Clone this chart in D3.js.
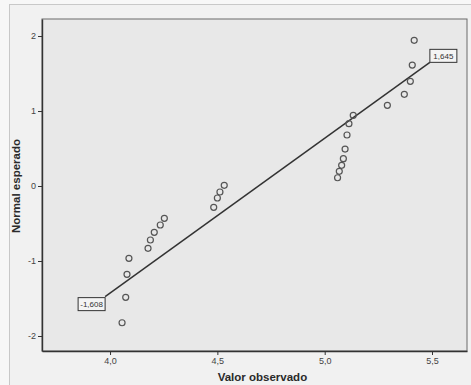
<!DOCTYPE html>
<html>
<head>
<meta charset="utf-8">
<script src="https://cdn.jsdelivr.net/npm/d3@7"></script>
<style>
  body { margin: 0; background: #f7f7f7; }
  svg { display: block; font-family: "Liberation Sans", Arial, sans-serif; }
</style>
</head>
<body>
<div id="viz"></div>
<script>
const observed = [4.056, 4.073, 4.079, 4.088, 4.177, 4.188, 4.206, 4.234, 4.253,
                  4.483, 4.500, 4.512, 4.532,
                  5.060, 5.068, 5.079, 5.087, 5.095, 5.104, 5.113, 5.133,
                  5.292, 5.371, 5.399, 5.408, 5.417];
const expected = [-1.823, -1.484, -1.177, -0.964, -0.831, -0.720, -0.617, -0.520, -0.431,
                  -0.284, -0.160, -0.080, 0.009,
                  0.110, 0.196, 0.276, 0.364, 0.493, 0.680, 0.831, 0.943,
                  1.076, 1.223, 1.396, 1.613, 1.943];

// reference line end points and their labels
const lineX = [3.977, 5.49];
const lineY = [-1.475, 1.649];
const lineLabels = ["-1,608", "1,645"];

const xTicks = [4.0, 4.5, 5.0, 5.5];
const yTicks = [-2, -1, 0, 1, 2];

const W = 471, H = 385;
const margin = { left: 42, right: 4, top: 19, bottom: 34 };

const svg = d3.select("#viz")
    .append("svg")
    .attr("width", W)
    .attr("height", H);

// outer frame of the chart
svg.append("rect")
    .attr("x", 9.5).attr("y", 4.5)
    .attr("width", W - 9).attr("height", H - 4)
    .attr("fill", "#f1f1f1")
    .attr("stroke", "#c8c8c8");

const xScale = d3.scaleLinear()
    .domain([3.683, 5.663])
    .range([margin.left, W - margin.right]);

const yScale = d3.scaleLinear()
    .domain([-2.2, 2.227])
    .range([H - margin.bottom, margin.top]);

// plot area
svg.append("rect")
    .attr("x", margin.left).attr("y", margin.top)
    .attr("width", W - margin.right - margin.left)
    .attr("height", H - margin.bottom - margin.top)
    .attr("fill", "#e8e8e8")
    .attr("stroke", "#6a6a6a")
    .attr("stroke-width", 1);

const fmtX = d => d3.format(".1f")(d).replace(".", ",");

const xAxis = d3.axisBottom(xScale).tickValues(xTicks).tickFormat(fmtX).tickSize(4).tickSizeOuter(0);
const yAxis = d3.axisLeft(yScale).tickValues(yTicks).tickFormat(d => String(d)).tickSize(4).tickSizeOuter(0);

const gx = svg.append("g")
    .attr("transform", `translate(0,${H - margin.bottom})`)
    .call(xAxis);
const gy = svg.append("g")
    .attr("transform", `translate(${margin.left},0)`)
    .call(yAxis);

[gx, gy].forEach(g => {
    g.select(".domain").attr("stroke", "#333").attr("stroke-width", 1.4);
    g.selectAll(".tick line").attr("stroke", "#333");
    g.selectAll(".tick text")
        .attr("fill", "#444")
        .attr("font-size", 9)
        .attr("font-family", "'Liberation Sans', Arial, sans-serif");
});
gy.selectAll(".tick text").attr("x", -6);

// axis titles
svg.append("text")
    .attr("x", xScale(4.71)).attr("y", 381)
    .attr("text-anchor", "middle")
    .attr("font-size", 11.5).attr("font-weight", "bold")
    .attr("fill", "#2a2a2a")
    .text("Valor observado");

svg.append("text")
    .attr("transform", `translate(20,${yScale(0)}) rotate(-90)`)
    .attr("text-anchor", "middle")
    .attr("font-size", 11.5).attr("font-weight", "bold")
    .attr("fill", "#2a2a2a")
    .text("Normal esperado");

// reference line
const line = d3.line()
    .x(d => xScale(d[0]))
    .y(d => yScale(d[1]));

svg.append("path")
    .datum(d3.zip(lineX, lineY))
    .attr("fill", "none")
    .attr("stroke", "#333")
    .attr("stroke-width", 1.5)
    .attr("d", line);

// end labels in boxes
const labW = 27, labH = 13;
lineLabels.forEach((t, i) => {
    const px = xScale(lineX[i]), py = yScale(lineY[i]);
    const bx = i === 0 ? px - labW : px;
    const by = i === 0 ? py + 1 : py - labH;
    svg.append("rect")
        .attr("x", bx).attr("y", by)
        .attr("width", labW).attr("height", labH)
        .attr("fill", "#f4f4f4")
        .attr("stroke", "#333").attr("stroke-width", 1);
    svg.append("text")
        .attr("x", bx + labW / 2).attr("y", by + labH / 2 + 3)
        .attr("text-anchor", "middle")
        .attr("font-size", 8)
        .attr("fill", "#333")
        .text(t);
});

// points
svg.append("g")
    .selectAll("circle")
    .data(d3.zip(observed, expected))
    .join("circle")
    .attr("cx", d => xScale(d[0]))
    .attr("cy", d => yScale(d[1]))
    .attr("r", 3)
    .attr("fill", "none")
    .attr("stroke", "#555")
    .attr("stroke-width", 1.2);
</script>
</body>
</html>
